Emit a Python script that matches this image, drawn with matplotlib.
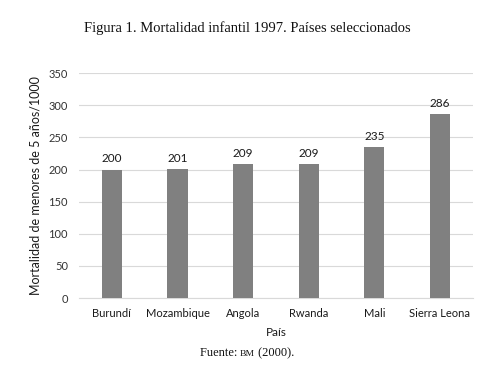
import matplotlib
matplotlib.use("Agg")
import matplotlib.pyplot as plt

paises = ["Burundí", "Mozambique", "Angola", "Rwanda", "Mali", "Sierra Leona"]
mortalidad = [200, 201, 209, 209, 235, 286]
yticks = [0, 50, 100, 150, 200, 250, 300, 350]

sans = ["Lato", "DejaVu Sans"]
serif = ["Liberation Serif", "DejaVu Serif"]

fig = plt.figure(figsize=(4.94, 3.77), dpi=100)
ax = fig.add_axes([0.160, 0.2095, 0.797, 0.5965])

x = range(len(paises))
ax.bar(x, mortalidad, width=0.31, color="#808080", zorder=3)
for xi, v in zip(x, mortalidad):
    ax.text(xi, v + 8, str(v), ha="center", va="bottom", fontsize=8.5,
            family=sans, color="#1a1a1a")

ax.set_xlim(-0.5, len(paises) - 0.5)
ax.set_ylim(0, 350)
ax.set_yticks(yticks)
ax.set_yticklabels([str(t) for t in yticks], family=sans, fontsize=8, color="#333333")
ax.set_xticks(list(x))
ax.set_xticklabels(paises, family=sans, fontsize=8, color="#1a1a1a")
ax.tick_params(length=0, pad=7)
ax.tick_params(axis="y", pad=8)

ax.grid(axis="y", color="#d9d9d9", linewidth=0.8, zorder=0)
for s in ["top", "right", "left"]:
    ax.spines[s].set_visible(False)
ax.spines["bottom"].set_color("#d9d9d9")

ax.set_xlabel("País", family=sans, fontsize=8.5, color="#1a1a1a", labelpad=6)
ax.set_ylabel("Mortalidad de menores de 5 años/1000", family=sans, fontsize=9,
              color="#1a1a1a", labelpad=5)

fig.text(0.5, 0.925, "Figura 1. Mortalidad infantil 1997. Países seleccionados",
         ha="center", va="center", family=serif, fontsize=10.5, color="#111111")

# footer with "BM" in small caps, pieces placed side by side and centred
foot_y = 0.056
pieces = [("Fuente: ", 9), ("BM", 6.8), (" (2000).", 9)]
texts = [fig.text(0, foot_y, s, ha="left", va="baseline", family=serif,
                  fontsize=fs, color="#111111") for s, fs in pieces]
fig.canvas.draw()
r = fig.canvas.get_renderer()
widths = [t.get_window_extent(r).width / fig.bbox.width for t in texts]
xpos = 0.5 - sum(widths) / 2
for t, w in zip(texts, widths):
    t.set_x(xpos)
    xpos += w

fig.savefig("out.png", dpi=100)
